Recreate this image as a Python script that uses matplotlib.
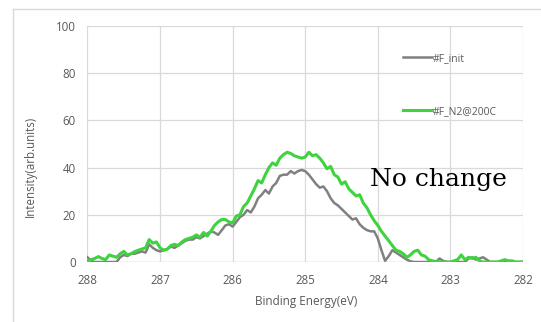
import numpy as np
import matplotlib
matplotlib.use("Agg")
import matplotlib.pyplot as plt
from matplotlib.lines import Line2D

# binding energy axis, 0.05 eV steps from 288 down to 282
energy = np.round(np.arange(288.0, 281.99, -0.05), 2)

f_n2_200c = [
    0.5, 1.0, 1.5, 2.3, 1.5, 1.0, 3.0, 2.5, 2.0, 3.5,
    4.5, 3.0, 3.5, 4.4, 5.0, 5.5, 6.0, 9.5, 8.0, 8.5,
    6.0, 5.0, 5.5, 7.0, 7.5, 7.0, 8.5, 9.5, 10.0, 10.5,
    11.5, 10.5, 12.5, 11.0, 13.0, 15.5, 17.0, 18.0, 18.0, 17.0,
    16.5, 19.5, 20.0, 23.5, 25.0, 28.0, 31.0, 34.5, 33.5, 37.0,
    40.0, 42.0, 41.0, 44.0, 45.5, 46.5, 46.0, 45.0, 44.5, 44.0,
    44.5, 46.5, 45.0, 45.5, 44.0, 42.0, 39.5, 40.5, 37.0, 36.0,
    33.0, 34.0, 31.0, 29.5, 28.0, 28.5, 25.0, 23.0, 20.0, 17.5,
    15.5, 13.0, 11.0, 9.0, 7.0, 5.0, 4.5, 3.5, 2.0, 3.0,
    4.5, 5.0, 3.0, 2.5, 1.0, 0.5, 0.2, 0.0, 0.0, 0.0,
    0.0, 0.5, 1.0, 3.0, 1.0, 2.0, 1.5, 2.0, 0.5, 0.0,
    0.0, 0.0, 0.0, 0.0, 0.5, 1.0, 0.5, 0.5, 0.0, 0.0,
    0.0,
]

f_init = [
    2.0, 0.5, 0.0, 0.0, 0.0, 0.0, 0.0, 0.0, 0.0, 2.0,
    3.0, 2.5, 3.5, 3.5, 4.0, 4.5, 4.0, 7.5, 6.0, 5.0,
    4.5, 5.0, 5.5, 6.5, 6.0, 7.0, 8.0, 9.0, 9.5, 9.5,
    10.5, 10.0, 11.0, 12.0, 13.0, 12.5, 11.5, 13.5, 15.5, 16.0,
    15.0, 17.0, 19.0, 20.0, 22.0, 21.0, 23.5, 27.0, 28.5, 30.5,
    29.0, 32.0, 33.5, 36.5, 37.0, 37.0, 38.5, 37.5, 38.5, 39.0,
    38.5, 37.0, 35.0, 33.0, 31.5, 32.0, 30.0, 27.0, 25.0, 24.0,
    22.5, 21.0, 19.5, 18.0, 18.5, 16.0, 14.5, 13.5, 13.0, 13.0,
    10.0, 5.0, 0.5, 2.5, 5.0, 4.0, 3.0, 2.0, 1.0, 0.3,
    0.0, 0.0, 0.0, 0.0, 0.0, 0.0, 0.0, 1.5, 0.5, 0.0,
    0.0, 0.0, 0.0, 0.0, 0.0, 1.5, 2.0, 1.0, 1.5, 2.0,
    1.0, 0.0, 0.0, 0.0, 0.0, 0.0, 0.0, 0.0, 0.0, 0.0,
    0.0,
]

labels = ["#F_init", "#F_N2@200C"]
gray = "#808080"
green = "#3fd43f"
txt = "#595959"

fig = plt.figure(figsize=(5.41, 3.22), dpi=100)
ax = fig.add_axes([0.1617, 0.1863, 0.805, 0.733])

ax.plot(energy, f_init, color=gray, lw=1.8, solid_joinstyle="round")
ax.plot(energy, f_n2_200c, color=green, lw=2.2, solid_joinstyle="round")

ax.set_xlim(288, 282)
ax.set_ylim(0, 100)
ax.set_xticks(np.arange(288, 281.9, -1))
ax.set_yticks(np.arange(0, 101, 20))
ax.grid(True, color="#d9d9d9", lw=0.9)
ax.set_axisbelow(True)
for s in ax.spines.values():
    s.set_visible(False)
ax.axhline(0, color="#bfbfbf", lw=0.9, zorder=0)
ax.tick_params(length=0, labelsize=8.3, labelcolor=txt, pad=8.5)
for lab in ax.get_xticklabels() + ax.get_yticklabels():
    lab.set_family("Open Sans")

handles = [Line2D([], [], color=gray, lw=1.8), Line2D([], [], color=green, lw=2.2)]
leg = ax.legend(handles, labels, loc="upper left", bbox_to_anchor=(0.703, 0.925),
                frameon=False, handlelength=2.8, handletextpad=0.1,
                labelspacing=4.0, prop={"family": "Open Sans", "size": 7.5})
for t in leg.get_texts():
    t.set_color(txt)

ax.text(0.649, 0.322, "No change", transform=ax.transAxes, va="baseline",
        ha="left", family="DejaVu Serif", fontsize=18, color="black")

fig.text(30 / 541, 1 - 166 / 322, "Intensity(arb.units)", rotation=90,
         ha="center", va="center", fontsize=8.3, color=txt, family="Open Sans")
fig.text(306 / 541, 1 - 302 / 322, "Binding Energy(eV)", ha="center",
         va="center", fontsize=8.5, color=txt, family="Open Sans")

# outer chart frame (top and left edges visible)
fig.add_artist(Line2D([13 / 541, 1], [1 - 9 / 322] * 2, color="#d9d9d9", lw=1))
fig.add_artist(Line2D([13 / 541] * 2, [0, 1 - 9 / 322], color="#d9d9d9", lw=1))

fig.savefig("out.png", dpi=100)
